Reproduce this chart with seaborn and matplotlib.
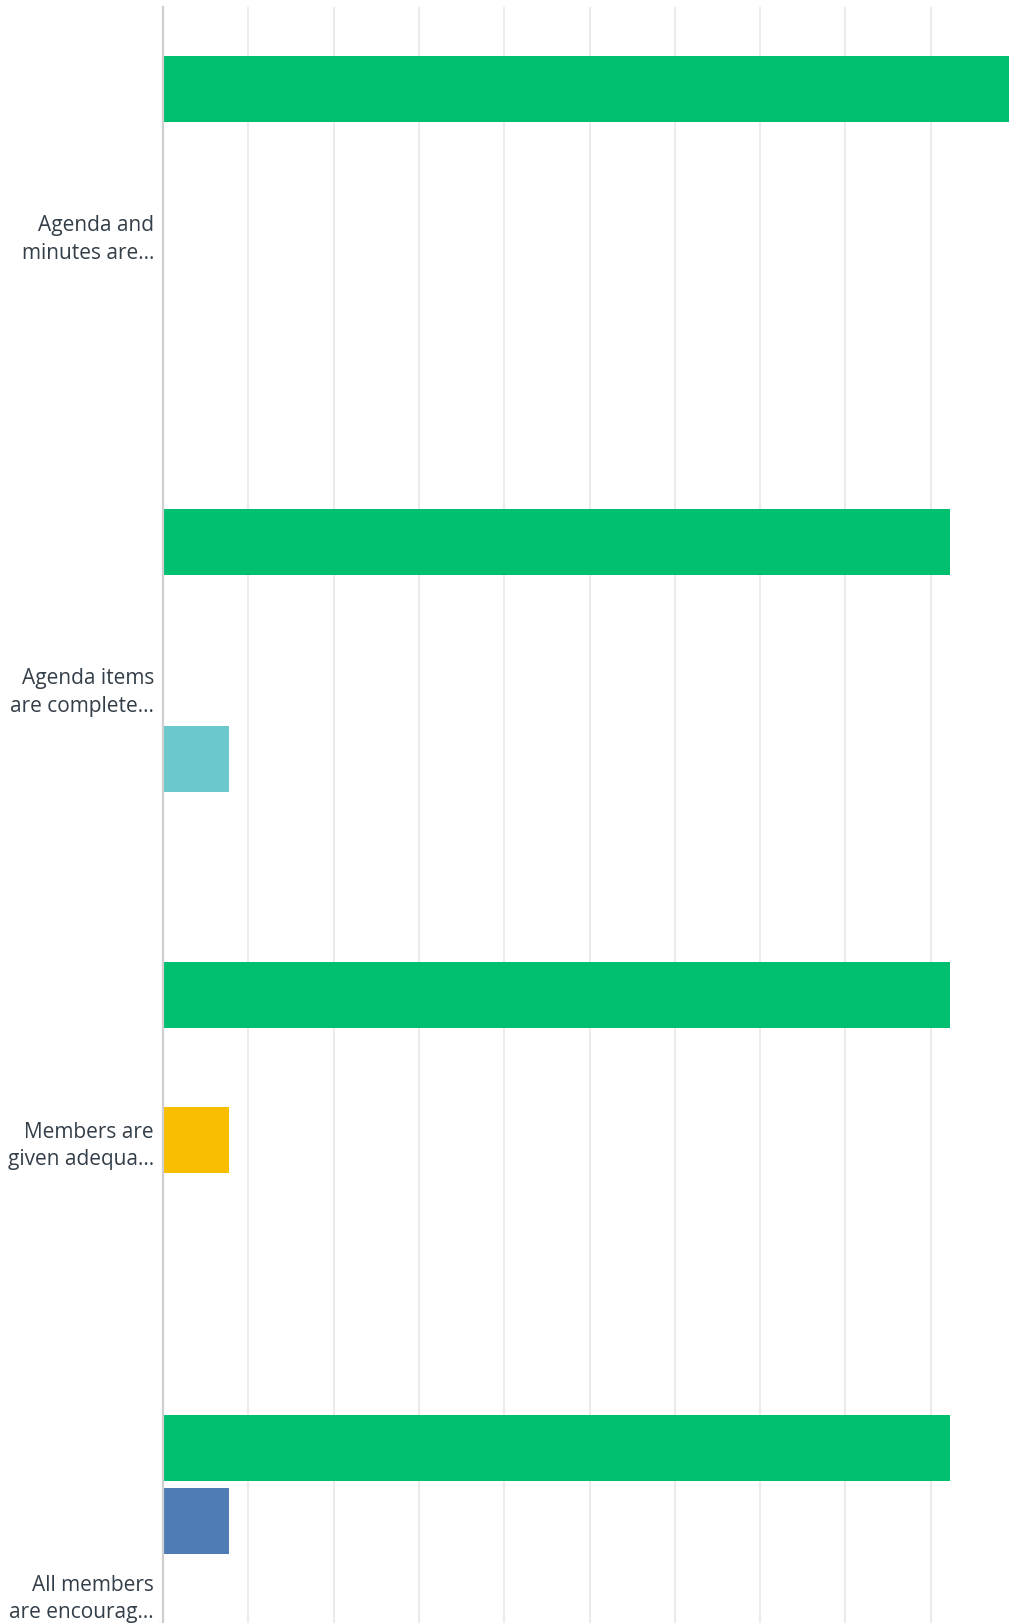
import matplotlib
matplotlib.use("Agg")
import matplotlib.pyplot as plt
import seaborn as sns
import pandas as pd

# Survey question labels (truncated as in the original export)
questions = [
    "Agenda and\nminutes are...",
    "Agenda items\nare complete...",
    "Members are\ngiven adequa...",
    "All members\nare encourag...",
]
answers = ["Strongly agree", "Agree", "Neither agree nor disagree", "Disagree", "Strongly disagree"]
colors = ["#00BF6F", "#507CB6", "#F9BE00", "#6BC8CD", "#FF8B4F"]

# percentages per answer, one list per question
agenda_minutes = [100.0, 0.0, 0.0, 0.0, 0.0]
agenda_items = [92.31, 0.0, 0.0, 7.69, 0.0]
members_given = [92.31, 0.0, 7.69, 0.0, 0.0]
members_encouraged = [92.31, 7.69, 0.0, 0.0, 0.0]

values = [agenda_minutes, agenda_items, members_given, members_encouraged]
df = pd.DataFrame({
    "question": [q for q in questions for _ in answers],
    "answer": answers * len(questions),
    "pct": [v for row in values for v in row],
})

W, H = 1009, 1623
fig = plt.figure(figsize=(W / 100, H / 100), dpi=100)
ax = fig.add_axes([163 / W, 0, (1016 - 163) / W, 1 - 7 / H])

sns.barplot(data=df, y="question", x="pct", hue="answer", hue_order=answers,
            palette=colors, saturation=1, orient="h", width=0.8, gap=0.09,
            linewidth=0, legend=False, ax=ax)

ax.set_xlim(0, 100)
ax.set_ylim(3.065, -0.5)
ax.set_xticks(range(0, 101, 10))
ax.xaxis.grid(True, color="#ebebeb", linewidth=1.5)
ax.set_axisbelow(True)
ax.tick_params(axis="x", length=0, labelbottom=False)
ax.tick_params(axis="y", length=0, pad=6.5)
for lbl in ax.get_yticklabels():
    lbl.set_fontsize(15)
    lbl.set_color("#333e48")
    lbl.set_family("Open Sans")
    lbl.set_multialignment("right")
    lbl.set_linespacing(1.4)

for s in ["top", "right", "bottom"]:
    ax.spines[s].set_visible(False)
ax.spines["left"].set_color("#cfcfcf")
ax.spines["left"].set_linewidth(1.6)
ax.set_xlabel("")
ax.set_ylabel("")

fig.savefig("out.png", dpi=100)
